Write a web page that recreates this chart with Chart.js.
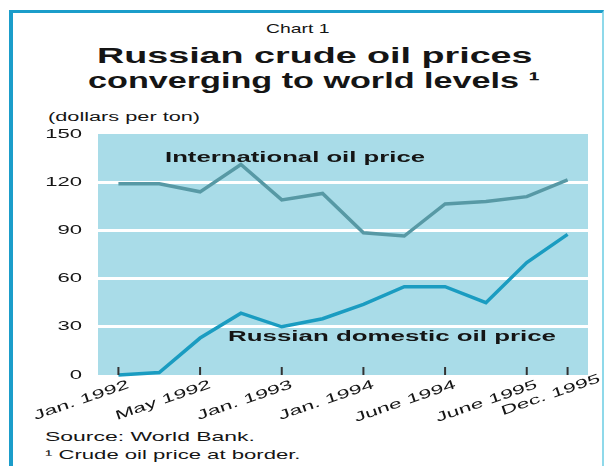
<!DOCTYPE html>
<html>
<head>
<meta charset="utf-8">
<script src="https://cdn.jsdelivr.net/npm/chart.js@4.4.1/dist/chart.umd.min.js"></script>
<style>
body { margin: 0; background: #fff; width: 606px; height: 466px; overflow: hidden; position: relative;
       font-family: Arial, "Liberation Sans", sans-serif; color: #151515; }
#frame { position: absolute; left: 9px; top: 10px; width: 589px; height: 480px;
         border-left: 4px solid #1b9dca; border-top: 3px solid #1b9dca; border-right: 2px solid #8fd9ea; }
.t { position: absolute; white-space: nowrap; transform-origin: 0 50%; line-height: 1; }
canvas { position: absolute; left: 0; top: 0; }
</style>
</head>
<body>
<div id="frame"></div>
<div class="t" data-w="64" style="left:266px;top:22px;font-size:13px">Chart 1</div>
<div class="t" data-w="435" style="left:97px;top:45px;font-size:22px;font-weight:bold">Russian crude oil prices</div>
<div class="t" data-w="452" style="left:88px;top:70px;font-size:22px;font-weight:bold">converging to world levels ¹</div>
<div class="t" data-w="152" style="left:48px;top:111px;font-size:12px">(dollars per ton)</div>
<div class="t" data-w="210" style="left:45px;top:430px;font-size:13px">Source: World Bank.</div>
<div class="t" data-w="255" style="left:45px;top:448px;font-size:13px">¹ Crude oil price at border.</div>
<canvas id="oilChart" width="606" height="466"></canvas>

<script>
// chart data
const tickLabels = ["Jan. 1992", "", "May 1992", "", "Jan. 1993", "", "Jan. 1994", "", "June 1994", "", "June 1995", "Dec. 1995"];
const internationalPrice = [119, 119, 114, 131, 109, 113, 88.5, 86.5, 106.5, 108, 111, 121.5];
const russianPrice = [0, 1.5, 23, 38.5, 30, 35, 44, 55, 55, 45, 70, 87.5];
const yTicks = [0, 30, 60, 90, 120, 150];

const plotBg = "#a9dce8";

// stretch html texts to the width they have in the picture
document.querySelectorAll(".t").forEach(function (el) {
    const w = Number(el.dataset.w);
    el.style.transform = "scaleX(" + (w / el.offsetWidth) + ")";
});

function wideText(ctx, text, x, y, sx, angle) {
    ctx.save();
    ctx.translate(x, y);
    if (angle) ctx.rotate(angle);
    ctx.scale(sx, 1);
    ctx.fillText(text, 0, 0);
    ctx.restore();
}

const extras = {
    id: "extras",
    beforeDraw(chart) {
        const { ctx, chartArea: a } = chart;
        ctx.save();
        ctx.fillStyle = plotBg;
        ctx.fillRect(a.left, a.top, a.right - a.left, a.bottom - a.top);
        ctx.restore();
    },
    afterDraw(chart) {
        const { ctx, chartArea: a } = chart;
        const x = chart.scales.x;
        const y = chart.scales.y;
        ctx.save();
        ctx.fillStyle = "#151515";

        // y tick labels
        ctx.font = "13px Arial";
        ctx.textAlign = "right";
        ctx.textBaseline = "middle";
        yTicks.forEach(function (v) {
            wideText(ctx, String(v), a.left - 16, y.getPixelForValue(v), 1.7, 0);
        });

        // tick marks inside the plot and rotated labels
        ctx.strokeStyle = "#333";
        ctx.lineWidth = 2;
        ctx.textBaseline = "top";
        tickLabels.forEach(function (lab, i) {
            if (!lab) return;
            const px = x.getPixelForValue(i);
            ctx.beginPath();
            ctx.moveTo(px, a.bottom - 8);
            ctx.lineTo(px, a.bottom);
            ctx.stroke();
            let dx = 8, dy = 3;
            if (i === tickLabels.length - 1) { dx = 30; dy = -3; }
            wideText(ctx, lab, px + dx, a.bottom + dy, 1.75, -19 * Math.PI / 180);
        });

        // line labels
        ctx.font = "bold 15px Arial";
        ctx.textAlign = "left";
        ctx.textBaseline = "middle";
        let t = "International oil price";
        wideText(ctx, t, a.left + 67, y.getPixelForValue(135), 260 / ctx.measureText(t).width, 0);
        t = "Russian domestic oil price";
        wideText(ctx, t, a.left + 130, y.getPixelForValue(23.5), 328 / ctx.measureText(t).width, 0);
        ctx.restore();
    }
};

new Chart(document.getElementById("oilChart").getContext("2d"), {
    type: "line",
    data: {
        labels: tickLabels,
        datasets: [{
            label: "International oil price",
            data: internationalPrice,
            borderColor: "#5799a5",
            borderWidth: 3.5,
            pointRadius: 0,
            tension: 0,
            fill: false,
            clip: false
        }, {
            label: "Russian domestic oil price",
            data: russianPrice,
            borderColor: "#1a9cc1",
            borderWidth: 3.5,
            pointRadius: 0,
            tension: 0,
            fill: false,
            clip: false
        }]
    },
    options: {
        responsive: false,
        animation: false,
        devicePixelRatio: 1,
        layout: { padding: { left: 0, top: 134, right: 18, bottom: 0 } },
        plugins: { legend: { display: false }, tooltip: { enabled: false } },
        scales: {
            x: {
                offset: true,
                grid: { display: false },
                border: { display: false },
                ticks: { display: false },
                afterFit(scale) { scale.height = 91; }
            },
            y: {
                min: 0,
                max: 150,
                ticks: { display: false, stepSize: 30 },
                border: { display: false },
                grid: {
                    drawTicks: false,
                    lineWidth: 3,
                    color: function (c) {
                        return (c.tick && c.tick.value > 0 && c.tick.value < 150) ? "#ffffff" : "rgba(0,0,0,0)";
                    }
                },
                afterFit(scale) { scale.width = 98; }
            }
        }
    },
    plugins: [extras]
});
</script>
</body>
</html>
